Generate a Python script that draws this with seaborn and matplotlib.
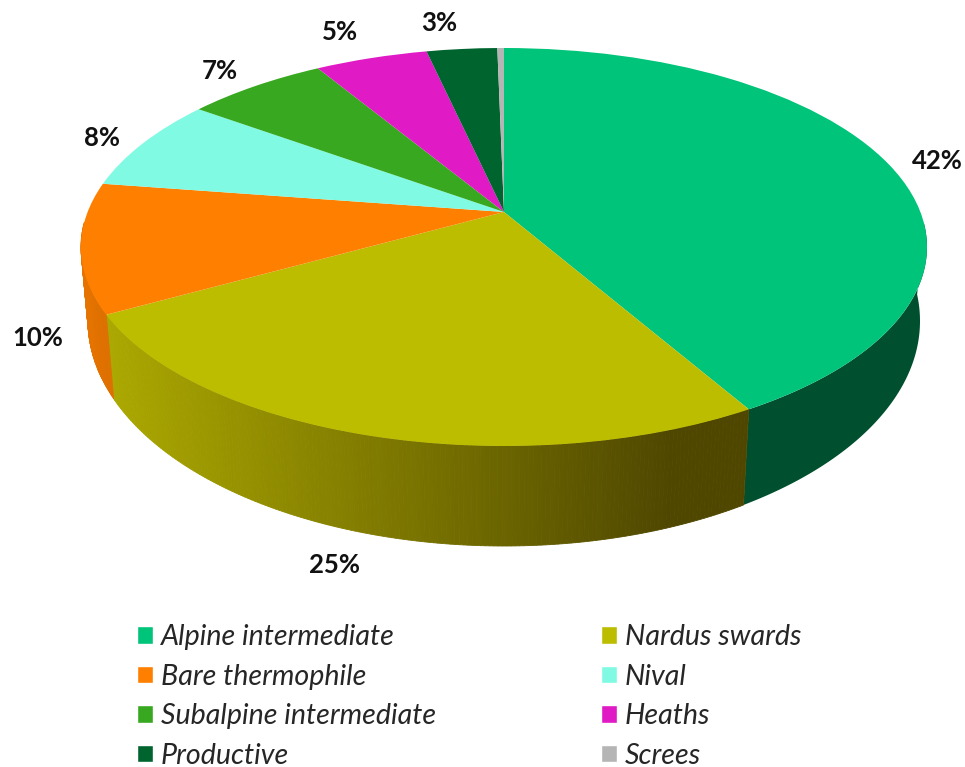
import numpy as np
import matplotlib
matplotlib.use("Agg")
import matplotlib.pyplot as plt
from matplotlib.colors import to_rgb
from matplotlib.transforms import Transform
from matplotlib.patches import Patch
import seaborn as sns

categories = ["Alpine intermediate", "Nardus swards", "Bare thermophile", "Nival",
              "Subalpine intermediate", "Heaths", "Productive", "Screes"]
values = [41.7, 25.2, 10.5, 7.6, 6.4, 5.1, 3.2, 0.3]
pct_labels = ["42%", "25%", "10%", "8%", "7%", "5%", "3%"]
top_colors = ["#00C47A", "#BDBD00", "#FF8000", "#80FAE3", "#38A820", "#E01AC4", "#00642F", "#B5B5B5"]
wall_near = ["#00502F", "#4F4700", "#DD7000", "#60C8B0", "#2A8018", "#A81090", "#004820", "#888888"]
wall_far = ["#00502F", "#ABA800", "#E87400", "#60C8B0", "#2A8018", "#A81090", "#004820", "#888888"]
label_pos = [(937, 161), (335, 565), (38, 338), (102, 138), (220, 71), (340, 32), (439, 23)]

sns.set_theme(style="white")
plt.rcParams["font.family"] = ["Lato", "DejaVu Sans"]


class Perspective(Transform):
    input_dims = output_dims = 2
    is_affine = False
    has_inverse = False

    def __init__(self, cx, cy, a, b, k):
        super().__init__()
        self.cx, self.cy, self.a, self.b, self.k = cx, cy, a, b, k

    def transform_non_affine(self, values):
        v = np.asarray(values, float)
        d = 1 + self.k * v[:, 1]
        s = np.sqrt(1 - self.k ** 2)
        return np.column_stack([
            self.cx + self.a * s * v[:, 0] / d,
            self.cy - self.b * self.k - self.b * (1 - self.k ** 2) * v[:, 1] / d,
        ])


top_face = Perspective(504, 247, 423, 199, 0.176)
low_face = Perspective(504, 321, 416, 225, 0.17)

fig = plt.figure(figsize=(9.65, 7.67), dpi=100)
ax = fig.add_axes([0, 0, 1, 1])
wedges, _ = ax.pie(values, colors=sns.color_palette(top_colors), startangle=90,
                   counterclock=False, frame=True, wedgeprops=dict(linewidth=0, zorder=5))
ax.set(xlim=(0, 965), ylim=(767, 0))
ax.axis("off")
for w in wedges:
    w.set_transform(top_face + ax.transData)

for w, near, far in zip(wedges, wall_near, wall_far):
    th = np.radians(np.linspace(w.theta1, w.theta2, int(max(2, (w.theta2 - w.theta1) * 2 + 1))))
    unit = np.column_stack([np.cos(th), np.sin(th)])
    front = unit[:, 1] < -0.05
    if front.sum() < 2:
        continue
    up, lo = top_face.transform(unit[front]), low_face.transform(unit[front])
    if near == far:
        poly = np.vstack([up, lo[::-1]])
        ax.fill(poly[:, 0], poly[:, 1], color=near, lw=0, zorder=2)
        continue
    near_c, far_c = np.array(to_rgb(near)), np.array(to_rgb(far))
    span = up[:, 0].max() - up[:, 0].min()
    for i in range(len(up) - 1):
        t = np.clip(((up[:, 0].max() - up[i, 0]) / span - 0.12) / 0.88, 0, 1)
        c = near_c + (far_c - near_c) * t
        poly = np.vstack([up[i], up[i + 1], lo[i + 1], lo[i]])
        ax.fill(poly[:, 0], poly[:, 1], color=c, lw=0.6, zorder=2)

for txt, (x, y) in zip(pct_labels, label_pos):
    ax.text(x, y, txt, ha="center", va="center", fontsize=18.5, fontweight="bold", color="#111111")

order = [0, 2, 4, 6, 1, 3, 5, 7]
handles = [Patch(facecolor=top_colors[i], label=categories[i]) for i in order]
fig.legend(handles=handles, ncol=2, frameon=False, loc="lower left",
           bbox_to_anchor=(137 / 965, -0.002),
           prop=dict(family="Lato", style="italic", size=20.6),
           handlelength=0.56, handleheight=0.56, handletextpad=0.28,
           labelspacing=0.47, columnspacing=5.75, borderpad=0, borderaxespad=0)
fig.savefig("out.png", dpi=100)
